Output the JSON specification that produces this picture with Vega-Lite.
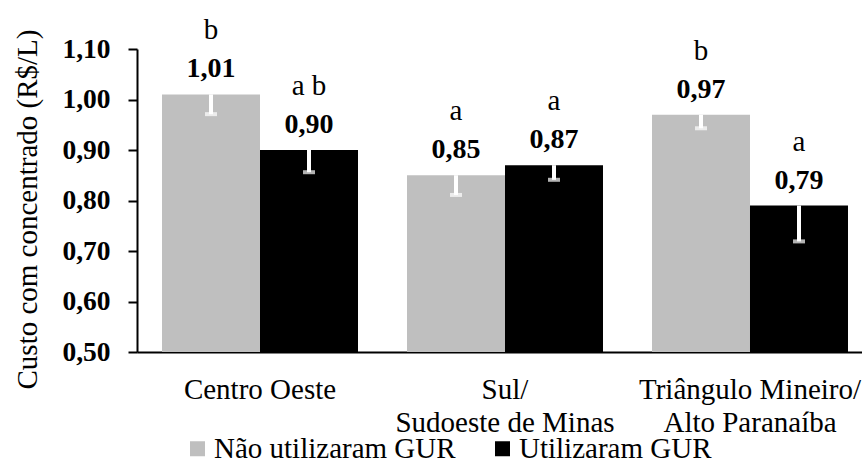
{
  "$schema": "https://vega.github.io/schema/vega-lite/v6.json",
  "width": 725,
  "height": 303,
  "autosize": {"type": "none"},
  "padding": {"left": 137, "top": 49, "right": 0, "bottom": 112},
  "background": "white",
  "config": {
    "view": {"stroke": null},
    "font": "Liberation Serif",
    "locale": {"number": {"decimal": ",", "thousands": ".", "grouping": [3], "currency": ["R$ ", ""]}}
  },
  "data": {
    "values": [
      {"regiao": "Centro Oeste", "grupo": "Não utilizaram GUR", "custo": 1.01, "inferior": 0.971, "letra": "b"},
      {"regiao": "Centro Oeste", "grupo": "Utilizaram GUR", "custo": 0.90, "inferior": 0.856, "letra": "a b"},
      {"regiao": "Sul/Sudoeste de Minas", "grupo": "Não utilizaram GUR", "custo": 0.85, "inferior": 0.811, "letra": "a"},
      {"regiao": "Sul/Sudoeste de Minas", "grupo": "Utilizaram GUR", "custo": 0.87, "inferior": 0.841, "letra": "a"},
      {"regiao": "Triângulo Mineiro/Alto Paranaíba", "grupo": "Não utilizaram GUR", "custo": 0.97, "inferior": 0.943, "letra": "b"},
      {"regiao": "Triângulo Mineiro/Alto Paranaíba", "grupo": "Utilizaram GUR", "custo": 0.79, "inferior": 0.719, "letra": "a"}
    ]
  },
  "encoding": {
    "x": {
      "field": "regiao",
      "type": "nominal",
      "sort": null,
      "scale": {"paddingInner": 0.2, "paddingOuter": 0.0796, "align": 0.641},
      "axis": {
        "title": null,
        "labelAngle": 0,
        "labelExpr": "split(replace(datum.label, '/', '/|'), '|')",
        "labelFont": "Liberation Serif",
        "labelFontSize": 29,
        "labelColor": "black",
        "labelBaseline": "alphabetic",
        "labelLineHeight": 33,
        "labelPadding": 46,
        "labelLimit": 400,
        "ticks": false,
        "tickSize": 0,
        "domainColor": "black",
        "domainWidth": 2
      }
    },
    "xOffset": {
      "field": "grupo",
      "type": "nominal",
      "sort": ["Não utilizaram GUR", "Utilizaram GUR"],
      "scale": {"paddingInner": 0, "paddingOuter": 0}
    },
    "y": {
      "field": "custo",
      "type": "quantitative",
      "scale": {"domain": [0.5, 1.1], "nice": false, "zero": false},
      "axis": {
        "title": "Custo com concentrado (R$/L)",
        "titleFont": "Liberation Serif",
        "titleFontSize": 29,
        "titleFontWeight": "normal",
        "titleColor": "black",
        "titleAngle": -90,
        "titleAlign": "center",
        "titleBaseline": "alphabetic",
        "titleX": -101,
        "titleY": 160,
        "values": [0.5, 0.6, 0.7, 0.8, 0.9, 1.0, 1.1],
        "format": ".2f",
        "labelFont": "Liberation Serif",
        "labelFontSize": 27.5,
        "labelFontWeight": "bold",
        "labelColor": "black",
        "labelPadding": 18,
        "tickSize": 9,
        "tickWidth": 2,
        "tickColor": "black",
        "domainColor": "black",
        "domainWidth": 2,
        "grid": false
      }
    }
  },
  "layer": [
    {
      "mark": {"type": "bar"},
      "encoding": {
        "y2": {"datum": 0.5},
        "color": {
          "field": "grupo",
          "type": "nominal",
          "scale": {"domain": ["Não utilizaram GUR", "Utilizaram GUR"], "range": ["#BFBFBF", "#000000"]},
          "legend": {
            "title": null,
            "orient": "none",
            "direction": "horizontal",
            "legendX": 46,
            "legendY": 385,
            "padding": 0,
            "symbolType": "square",
            "symbolSize": 225,
            "symbolStrokeWidth": 0,
            "labelFont": "Liberation Serif",
            "labelFontSize": 29,
            "labelColor": "black",
            "labelOffset": 2,
            "labelLimit": 400,
            "columnPadding": 32
          }
        }
      }
    },
    {
      "mark": {"type": "rule", "color": "white", "strokeWidth": 4},
      "encoding": {"y2": {"field": "inferior"}}
    },
    {
      "mark": {"type": "tick", "color": "white", "thickness": 4, "size": 12, "orient": "horizontal"},
      "encoding": {"y": {"field": "inferior", "type": "quantitative"}}
    },
    {
      "mark": {"type": "text", "fontWeight": "bold", "fontSize": 28, "baseline": "alphabetic", "dy": -17, "color": "black"},
      "encoding": {"text": {"field": "custo", "type": "quantitative", "format": ".2f"}}
    },
    {
      "mark": {"type": "text", "fontSize": 29, "baseline": "alphabetic", "dy": -55, "color": "black"},
      "encoding": {"text": {"field": "letra"}}
    }
  ]
}
